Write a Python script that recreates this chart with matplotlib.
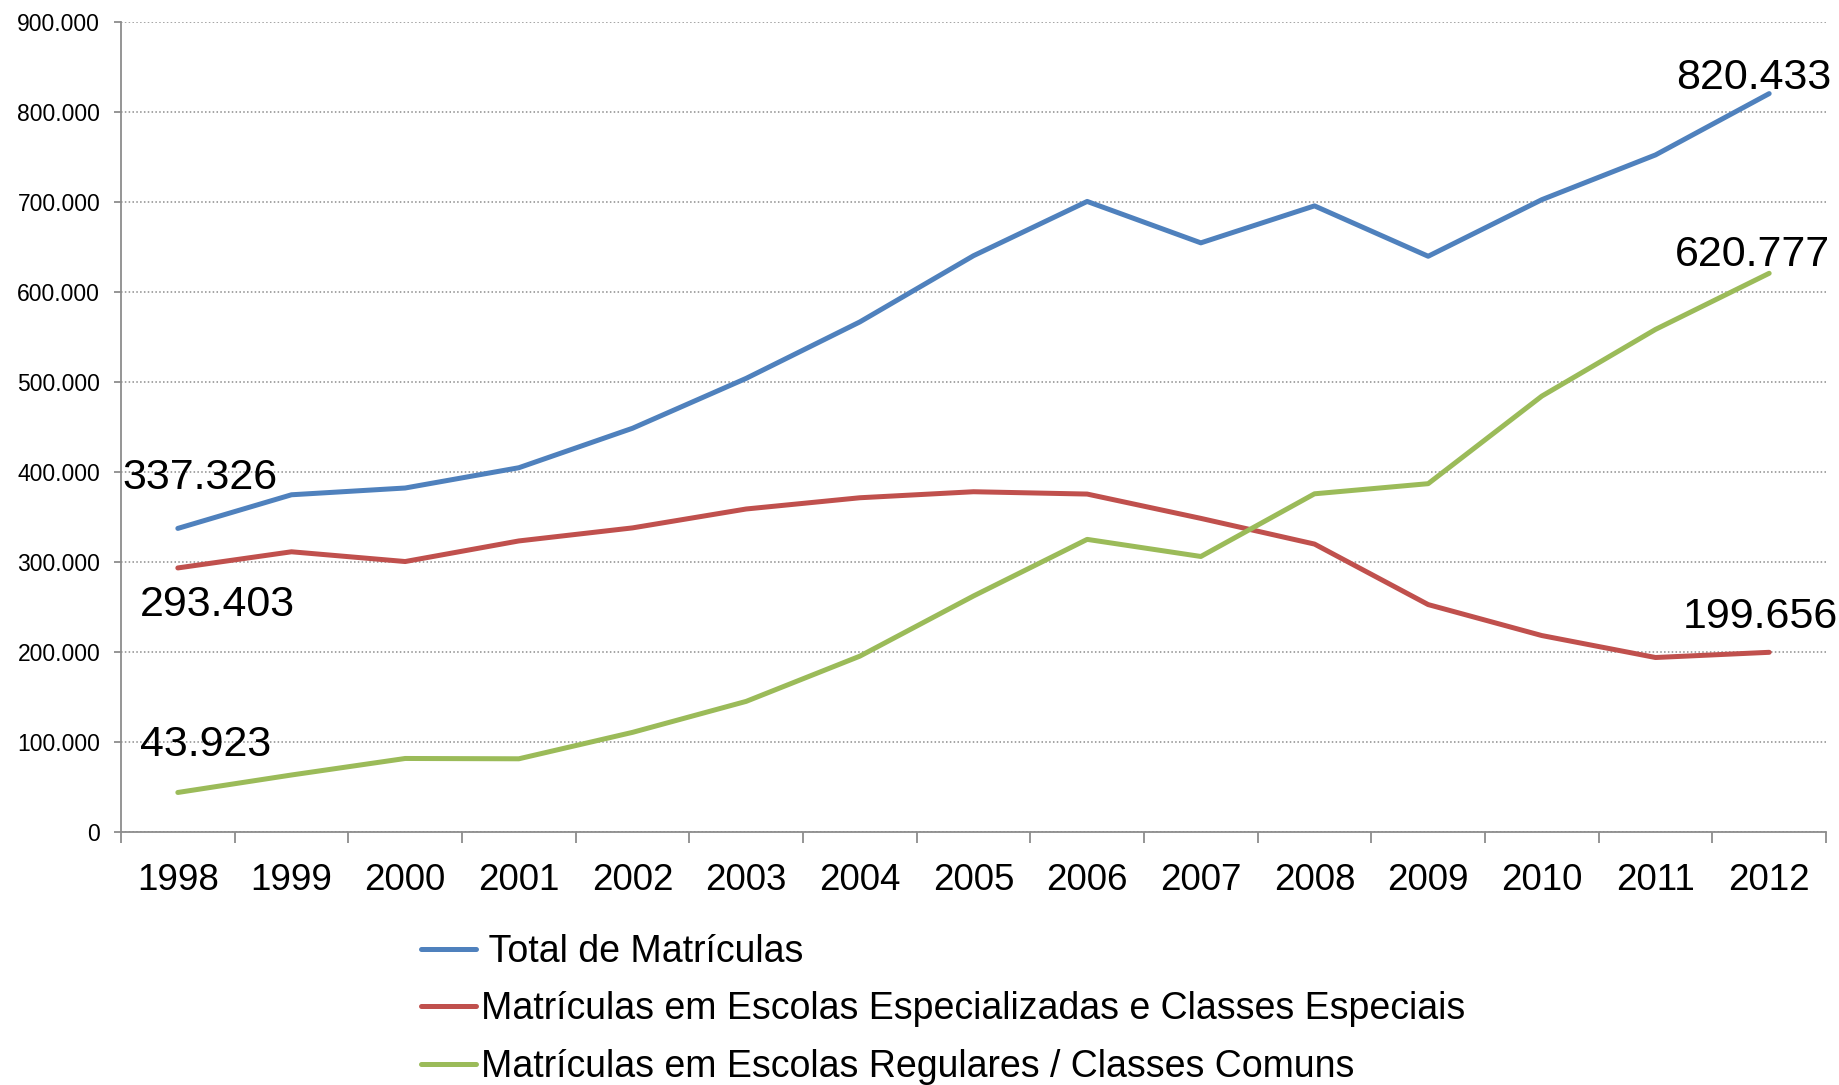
import numpy as np
import matplotlib
matplotlib.use("Agg")
import matplotlib.pyplot as plt
from matplotlib.ticker import FuncFormatter, FixedLocator

plt.rcParams['font.family'] = ['Liberation Sans', 'DejaVu Sans']

anos = ["1998", "1999", "2000", "2001", "2002", "2003", "2004", "2005",
        "2006", "2007", "2008", "2009", "2010", "2011", "2012"]
total = [337326, 374699, 382215, 404743, 448601, 504039, 566753, 640317,
         700624, 654606, 695699, 639718, 702603, 752305, 820433]
especiais = [293403, 311354, 300520, 323399, 337897, 358898, 371383, 378074,
             375488, 348470, 319924, 252687, 218271, 193882, 199656]
regulares = [43923, 63345, 81695, 81344, 110704, 145141, 195370, 262243,
             325136, 306136, 375775, 387031, 484332, 558423, 620777]

nomes = ["\u2009Total de Matrículas",
         "Matrículas em Escolas Especializadas e Classes Especiais",
         "Matrículas em Escolas Regulares / Classes Comuns"]
cores = ["#4F81BD", "#C0504D", "#9BBB59"]

fig = plt.figure(figsize=(18.4, 10.85), dpi=100)
ax = fig.add_axes([121 / 1840, 1 - 832 / 1085, (1826 - 121) / 1840, (832 - 22) / 1085])

x = np.arange(len(anos)) + 0.5
linhas = []
for serie, cor, nome in zip([total, especiais, regulares], cores, nomes):
    l, = ax.plot(x, serie, color=cor, lw=3.6, label=nome, solid_capstyle='round')
    linhas.append(l)

ax.set_xlim(0, len(anos))
ax.set_ylim(0, 900000)
ax.set_yticks(np.arange(0, 900001, 100000))
ax.yaxis.set_major_formatter(FuncFormatter(lambda v, p: f"{int(v):,}".replace(",", ".")))
ax.grid(axis='y', linestyle=(0, (1, 1.5)), color='#8c8c8c', lw=1.1)
ax.set_axisbelow(True)

ax.xaxis.set_major_locator(FixedLocator(np.arange(0, len(anos) + 1)))
ax.xaxis.set_minor_locator(FixedLocator(x))
ax.set_xticklabels([], minor=False)
ax.set_xticklabels(anos, minor=True)
ax.tick_params(axis='x', which='major', length=8, width=1.3, color='#8c8c8c', direction='out')
ax.tick_params(axis='x', which='minor', length=0, pad=22, labelsize=26.5)
ax.tick_params(axis='y', length=5, width=1.3, color='#8c8c8c', pad=10, labelsize=16.5)

for s in ['top', 'right']:
    ax.spines[s].set_visible(False)
for s in ['left', 'bottom']:
    ax.spines[s].set_color('#8c8c8c')
    ax.spines[s].set_linewidth(1.3)

def rotulo(i, serie, dx, dy):
    v = serie[i]
    ax.annotate(f"{v:,}".replace(",", "."), (x[i], v), xytext=(dx, dy),
                textcoords='offset pixels', ha='center', va='center', fontsize=31)

rotulo(0, total, 22, 50)
rotulo(0, especiais, 40, -37)
rotulo(0, regulares, 28, 47)
rotulo(-1, total, -15, 16)
rotulo(-1, regulares, -17, 18)
rotulo(-1, especiais, -9, 35)

fig.legend(handles=linhas, loc='upper left', bbox_to_anchor=(421 / 1840, 1 - 934 / 1085),
           frameon=False, fontsize=27, handlelength=1.47, handletextpad=0.13,
           labelspacing=0.57, borderpad=0, borderaxespad=0)

fig.savefig("out.png", dpi=100)
